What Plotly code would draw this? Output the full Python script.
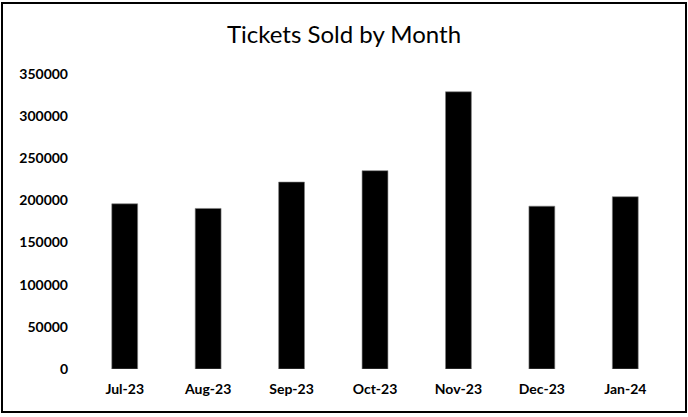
import plotly.graph_objects as go

# Monthly ticket sales
months = ["Jul-23", "Aug-23", "Sep-23", "Oct-23", "Nov-23", "Dec-23", "Jan-24"]
tickets_sold = [196000, 190500, 221800, 235300, 328900, 193200, 204400]
y_ticks = [0, 50000, 100000, 150000, 200000, 250000, 300000, 350000]

W, H = 688, 417
ml, mr, mt, mb = 83, 21, 74, 48
pw, ph = W - ml - mr, H - mt - mb

fig = go.Figure(
    go.Bar(
        x=months,
        y=tickets_sold,
        marker=dict(color="#000000", line=dict(color="#808080", width=0.6)),
    )
)

# outer chart frame, placed in pixels and converted to paper units
fx0, fx1, fy_top, fy_bot = 2, 686, 3, 412
fig.add_shape(
    type="rect",
    xref="paper", yref="paper",
    x0=(fx0 - ml) / pw, x1=(fx1 - ml) / pw,
    y0=(H - mb - fy_bot) / ph, y1=(H - mb - fy_top) / ph,
    line=dict(color="#000000", width=2),
    fillcolor="rgba(0,0,0,0)",
    layer="above",
)

fig.update_layout(
    width=W, height=H,
    margin=dict(l=ml, r=mr, t=mt, b=mb),
    paper_bgcolor="white",
    plot_bgcolor="white",
    bargap=0.69,
    showlegend=False,
    title=dict(
        text="Tickets Sold by Month",
        x=0.5, xref="container", xanchor="center",
        y=1 - 35 / H, yref="container", yanchor="middle",
        font=dict(family="Lato", size=24, color="#000000"),
    ),
    xaxis=dict(
        showgrid=False, showline=False, zeroline=False,
        ticks="", ticklabelstandoff=10,
        tickfont=dict(family="Lato", size=14, color="#000000", weight="bold"),
    ),
    yaxis=dict(
        range=[0, 350000],
        tickvals=y_ticks,
        ticktext=[str(v) for v in y_ticks],
        showgrid=False, showline=False, zeroline=False,
        ticks="", ticklabelstandoff=14,
        tickfont=dict(family="Lato", size=14, color="#000000", weight="bold"),
    ),
)

fig.write_html("out.html")
